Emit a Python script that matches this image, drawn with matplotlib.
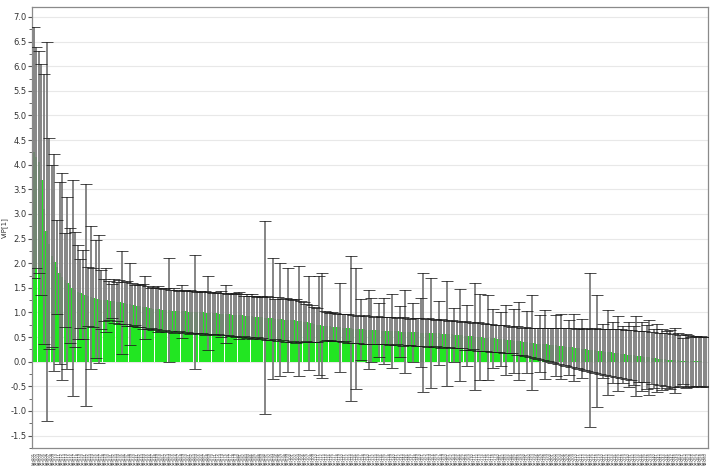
import matplotlib
matplotlib.use("Agg")
import matplotlib.pyplot as plt
from matplotlib.ticker import MultipleLocator

# VIP values (sorted) and jack-knife confidence half-widths
vip = [
    4.25, 4.15, 4.05, 3.70, 3.10, 2.65, 2.40, 2.15, 2.02, 1.92, 1.80, 1.73, 1.66, 1.60, 1.55, 1.50, 1.46, 1.42, 1.39, 1.37,
    1.35, 1.33, 1.31, 1.30, 1.28, 1.27, 1.26, 1.25, 1.25, 1.24, 1.23, 1.23, 1.22, 1.21, 1.20, 1.19, 1.18, 1.17, 1.16, 1.15,
    1.14, 1.13, 1.12, 1.11, 1.10, 1.09, 1.08, 1.08, 1.07, 1.06, 1.06, 1.05, 1.05, 1.04, 1.04, 1.03, 1.03, 1.02, 1.02, 1.02,
    1.01, 1.01, 1.01, 1.00, 1.00, 1.00, 0.99, 0.99, 0.99, 0.98, 0.98, 0.98, 0.97, 0.97, 0.97, 0.96, 0.96, 0.95, 0.95, 0.94,
    0.94, 0.93, 0.93, 0.92, 0.92, 0.91, 0.91, 0.90, 0.90, 0.89, 0.89, 0.88, 0.88, 0.87, 0.87, 0.86, 0.86, 0.85, 0.85, 0.84,
    0.84, 0.83, 0.83, 0.82, 0.81, 0.80, 0.79, 0.78, 0.76, 0.75, 0.74, 0.73, 0.73, 0.72, 0.72, 0.71, 0.71, 0.70, 0.70, 0.69,
    0.69, 0.68, 0.68, 0.67, 0.67, 0.66, 0.66, 0.66, 0.65, 0.65, 0.65, 0.64, 0.64, 0.64, 0.63, 0.63, 0.63, 0.62, 0.62, 0.62,
    0.62, 0.61, 0.61, 0.61, 0.61, 0.60, 0.60, 0.60, 0.60, 0.59, 0.59, 0.59, 0.59, 0.58, 0.58, 0.58, 0.58, 0.57, 0.57, 0.57,
    0.56, 0.56, 0.55, 0.55, 0.54, 0.54, 0.53, 0.53, 0.52, 0.52, 0.51, 0.51, 0.50, 0.50, 0.49, 0.49, 0.48, 0.48, 0.47, 0.47,
    0.46, 0.46, 0.45, 0.45, 0.44, 0.43, 0.43, 0.42, 0.41, 0.41, 0.40, 0.39, 0.39, 0.38, 0.37, 0.37, 0.36, 0.35, 0.35, 0.34,
    0.33, 0.33, 0.32, 0.31, 0.31, 0.30, 0.29, 0.29, 0.28, 0.27, 0.27, 0.26, 0.25, 0.25, 0.24, 0.23, 0.23, 0.22, 0.21, 0.21,
    0.20, 0.19, 0.19, 0.18, 0.17, 0.17, 0.16, 0.15, 0.15, 0.14, 0.13, 0.13, 0.12, 0.11, 0.11, 0.10, 0.09, 0.09, 0.08, 0.07,
    0.07, 0.06, 0.05, 0.05, 0.04, 0.04, 0.03, 0.03, 0.03, 0.02, 0.02, 0.02, 0.02, 0.01, 0.01, 0.01, 0.01, 0.01, 0.00, 0.00,
]

ci = [
    2.55, 2.25, 2.25, 2.35, 2.75, 3.85, 2.15, 1.85, 2.20, 0.95, 1.85, 2.10, 0.95, 1.75, 1.17, 2.20, 1.17, 0.95, 0.70, 0.90,
    2.25, 0.60, 1.45, 0.60, 1.20, 1.30, 0.60, 0.42, 0.65, 0.40, 0.35, 0.45, 0.40, 0.44, 1.05, 0.42, 0.45, 0.83, 0.43, 0.41,
    0.44, 0.42, 0.45, 0.64, 0.43, 0.41, 0.44, 0.42, 0.46, 0.43, 0.41, 0.44, 1.05, 0.42, 0.45, 0.43, 0.41, 0.53, 0.44, 0.42,
    0.45, 0.43, 1.15, 0.41, 0.44, 0.42, 0.45, 0.76, 0.43, 0.41, 0.44, 0.42, 0.46, 0.43, 0.58, 0.41, 0.44, 0.42, 0.45, 0.48,
    0.43, 0.41, 0.44, 0.42, 0.45, 0.43, 0.41, 0.44, 0.42, 1.96, 0.45, 0.43, 1.23, 0.41, 0.44, 1.14, 0.42, 0.45, 1.05, 0.43,
    0.41, 0.44, 1.12, 0.42, 0.40, 0.38, 0.96, 0.37, 0.36, 0.35, 1.00, 1.07, 0.30, 0.28, 0.27, 0.29, 0.28, 0.27, 0.90, 0.28,
    0.27, 0.29, 1.47, 0.28, 1.23, 0.27, 0.62, 0.29, 0.28, 0.80, 0.65, 0.27, 0.29, 0.55, 0.28, 0.67, 0.27, 0.29, 0.75, 0.28,
    0.27, 0.52, 0.29, 0.84, 0.28, 0.27, 0.60, 0.29, 0.28, 0.70, 1.21, 0.27, 0.29, 1.12, 0.28, 0.27, 0.65, 0.29, 0.28, 1.07,
    0.27, 0.29, 0.55, 0.28, 0.94, 0.27, 0.29, 0.62, 0.28, 0.27, 1.09, 0.29, 0.88, 0.28, 0.27, 0.86, 0.29, 0.60, 0.28, 0.27,
    0.55, 0.29, 0.71, 0.28, 0.27, 0.65, 0.29, 0.80, 0.28, 0.30, 0.62, 0.29, 0.97, 0.30, 0.31, 0.58, 0.32, 0.70, 0.33, 0.34,
    0.35, 0.62, 0.36, 0.66, 0.37, 0.38, 0.55, 0.39, 0.68, 0.40, 0.41, 0.60, 0.42, 0.43, 1.56, 0.44, 0.45, 1.14, 0.46, 0.55,
    0.47, 0.86, 0.48, 0.62, 0.49, 0.76, 0.50, 0.58, 0.50, 0.66, 0.51, 0.60, 0.81, 0.52, 0.70, 0.52, 0.65, 0.76, 0.53, 0.60,
    0.69, 0.53, 0.62, 0.54, 0.58, 0.60, 0.54, 0.66, 0.55, 0.52, 0.47, 0.55, 0.53, 0.50, 0.52, 0.51, 0.50, 0.52, 0.50, 0.51,
]

# variable names are unreadable in the picture, so use placeholder ids
var_names = [f"Var{k + 1:03d}" for k in range(len(vip))]
pos = list(range(len(vip)))

fig = plt.figure(figsize=(7.13, 4.75), dpi=100)
ax = fig.add_axes([0.045, 0.057, 0.948, 0.928])

ax.bar(pos, vip, width=0.92, color="#22e622", linewidth=0, zorder=2)
_, caps, bars = ax.errorbar(pos, vip, yerr=ci, fmt="none", ecolor="#7c7c7c",
                            elinewidth=1.3, capsize=4.2, capthick=0.55, zorder=3)
for c in caps:
    c.set_markeredgecolor("#1a1a1a")
    c.set_zorder(4)

ax.set_xlim(-0.6, len(vip) - 0.4)
ax.set_ylim(-1.75, 7.2)
ax.yaxis.set_major_locator(MultipleLocator(0.5))
ax.yaxis.set_minor_locator(MultipleLocator(0.25))
ax.yaxis.set_major_formatter(plt.FuncFormatter(lambda v, p: f"{v:.1f}"))
ax.grid(axis="y", color="#e8e8e8", linewidth=0.8, zorder=0)
ax.tick_params(axis="y", which="major", labelsize=6, length=3, color="#555555", labelcolor="#333333", pad=1)
ax.tick_params(axis="y", which="minor", length=2, color="#555555")

ax.set_xticks(pos)
ax.set_xticklabels(var_names, rotation=90, fontsize=2.6, color="#333333")
ax.tick_params(axis="x", length=0, pad=3)

ax.set_ylabel("VIP[1]", fontsize=5, color="#333333", labelpad=2)

for s in ax.spines.values():
    s.set_color("#8a8a8a")
    s.set_linewidth(0.9)

fig.savefig("out.png", dpi=100)
